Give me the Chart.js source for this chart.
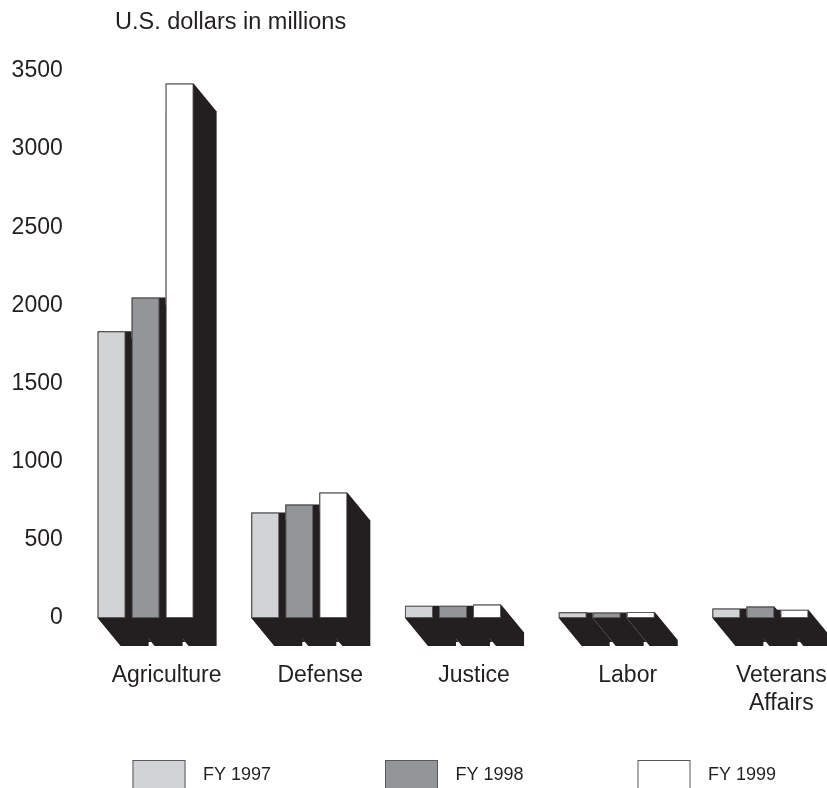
<!DOCTYPE html>
<html>
<head>
<meta charset="utf-8">
<script src="https://cdn.jsdelivr.net/npm/chart.js@4/dist/chart.umd.min.js"></script>
<style>
  html, body { margin: 0; padding: 0; background: #ffffff; overflow: hidden; }
  #wrap { width: 860px; height: 800px; }
</style>
</head>
<body>
<div id="wrap"><canvas id="c" width="860" height="800"></canvas></div>
<script>
// Spending by department, U.S. dollars in millions
const categories = ['Agriculture', 'Defense', 'Justice', 'Labor', ['Veterans', 'Affairs']];
const seriesNames = ['FY 1997', 'FY 1998', 'FY 1999'];
const fy1997 = [1835, 675, 78, 37, 60];
const fy1998 = [2050, 726, 78, 35, 74];
const fy1999 = [3420, 803, 87, 38, 53];
const yTickStep = 500;
const yMax = 3500;
const yAxisTitle = 'U.S. dollars in millions';

// Styling
const INK = '#231f20';
const EDGE = '#58595b';
const FILLS = ['#d1d3d4', '#939598', '#ffffff'];
const FONT = '"Liberation Sans", Arial, Helvetica, sans-serif';
const DEPTH_X = 23;
const DEPTH_Y = 28;
const GAP_FILL = 0.86; // how far down the block the space between columns is filled

function barBox(bar) {
  const p = bar.getProps(['x', 'y', 'base', 'width'], true);
  return {
    L: p.x - p.width / 2,
    R: p.x + p.width / 2,
    T: Math.min(p.y, p.base),
    B: Math.max(p.y, p.base)
  };
}

// Black block behind every column, swept down and to the right,
// with the space between neighbouring columns of a group filled in
const extrusion = {
  id: 'extrusion',
  beforeDatasetsDraw(chart) {
    const ctx = chart.ctx;
    const metas = chart.data.datasets
      .map((ds, i) => chart.getDatasetMeta(i))
      .filter(m => !m.hidden);
    ctx.save();
    ctx.fillStyle = INK;
    chart.data.labels.forEach((lab, j) => {
      const boxes = metas.map(m => barBox(m.data[j])).sort((a, b) => a.L - b.L);
      boxes.forEach(b => {
        ctx.beginPath();
        ctx.moveTo(b.L, b.T);
        ctx.lineTo(b.R, b.T);
        ctx.lineTo(b.R + DEPTH_X, b.T + DEPTH_Y);
        ctx.lineTo(b.R + DEPTH_X, b.B + DEPTH_Y);
        ctx.lineTo(b.L + DEPTH_X, b.B + DEPTH_Y);
        ctx.lineTo(b.L, b.B);
        ctx.closePath();
        ctx.fill();
      });
      for (let k = 0; k < boxes.length - 1; k++) {
        const a = boxes[k], b = boxes[k + 1];
        const top = Math.max(a.T, b.T);
        const base = Math.max(a.B, b.B);
        ctx.beginPath();
        ctx.moveTo(a.R, top);
        ctx.lineTo(b.L, top);
        ctx.lineTo(b.L, base);
        ctx.lineTo(b.L + DEPTH_X * GAP_FILL, base + DEPTH_Y * GAP_FILL);
        ctx.lineTo(a.R + DEPTH_X * GAP_FILL, base + DEPTH_Y * GAP_FILL);
        ctx.lineTo(a.R, base);
        ctx.closePath();
        ctx.fill();
      }
    });
    ctx.restore();
  }
};

// Unit caption above the value axis
const unitCaption = {
  id: 'unitCaption',
  afterDraw(chart) {
    const ctx = chart.ctx;
    ctx.save();
    ctx.font = '23.5px ' + FONT;
    ctx.fillStyle = INK;
    ctx.textAlign = 'left';
    ctx.textBaseline = 'middle';
    ctx.fillText(yAxisTitle, 115, 23);
    ctx.restore();
  }
};

// Key row along the bottom
const keyRow = {
  id: 'keyRow',
  afterDraw(chart) {
    const ctx = chart.ctx;
    const startX = 132.5, stepX = 252.5, boxW = 53, boxH = 30, top = 760;
    ctx.save();
    ctx.font = '18px ' + FONT;
    ctx.textAlign = 'left';
    ctx.textBaseline = 'middle';
    chart.data.datasets.forEach((ds, i) => {
      const x = startX + i * stepX;
      ctx.fillStyle = ds.backgroundColor;
      ctx.fillRect(x, top, boxW, boxH);
      ctx.strokeStyle = EDGE;
      ctx.lineWidth = 1;
      ctx.strokeRect(x + 0.5, top + 0.5, boxW - 1, boxH - 1);
      ctx.fillStyle = INK;
      ctx.fillText(ds.label, x + 70.5, top + 15);
    });
    ctx.restore();
  }
};

const seriesValues = [fy1997, fy1998, fy1999];

new Chart(document.getElementById('c'), {
  type: 'bar',
  data: {
    labels: categories,
    datasets: seriesNames.map((name, i) => ({
      label: name,
      data: seriesValues[i],
      backgroundColor: FILLS[i],
      borderColor: EDGE,
      borderWidth: 1,
      borderSkipped: false,
      categoryPercentage: 0.664,
      barPercentage: 0.824,
      clip: false
    }))
  },
  options: {
    responsive: false,
    animation: false,
    devicePixelRatio: 1,
    layout: { padding: { top: 71, right: 22.75, bottom: 0, left: 0 } },
    plugins: {
      legend: { display: false },
      tooltip: { enabled: false },
      title: { display: false }
    },
    scales: {
      x: {
        grid: { display: false, drawTicks: false },
        border: { display: false },
        ticks: {
          color: INK,
          font: { family: FONT, size: 23, lineHeight: 1.2 },
          padding: 44,
          labelOffset: 21,
          maxRotation: 0,
          autoSkip: false
        },
        afterFit(scale) { scale.height = 182; }
      },
      y: {
        min: 0,
        max: yMax,
        grid: { display: false, drawTicks: false },
        border: { display: false },
        ticks: {
          stepSize: yTickStep,
          color: INK,
          font: { family: FONT, size: 23 },
          padding: 6,
          callback: (value) => String(value)
        },
        afterFit(scale) { scale.width = 68.75; }
      }
    }
  },
  plugins: [extrusion, unitCaption, keyRow]
});
</script>
</body>
</html>
